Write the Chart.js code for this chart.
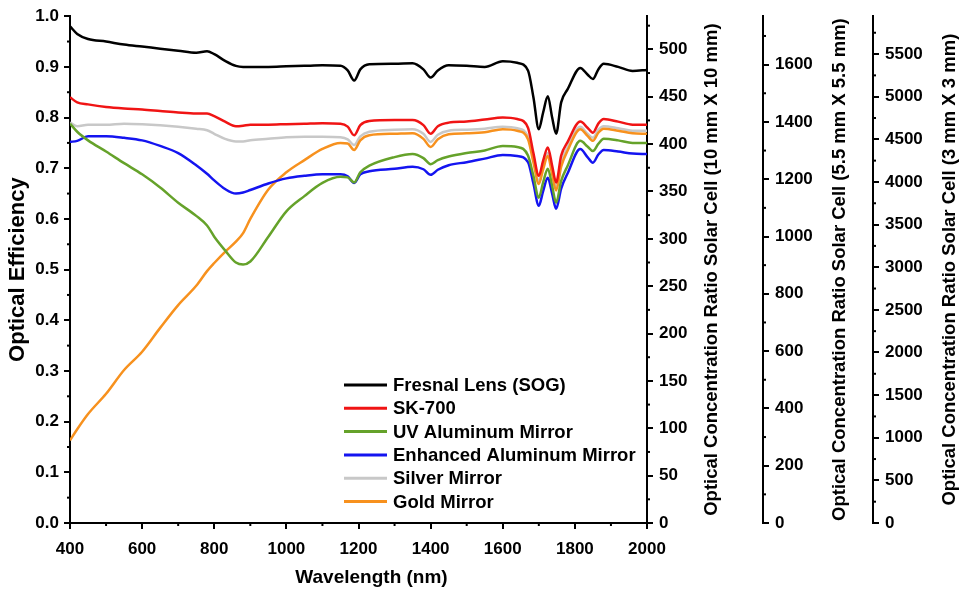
<!DOCTYPE html>
<html>
<head>
<meta charset="utf-8">
<script src="https://cdn.jsdelivr.net/npm/chart.js@4.4.0/dist/chart.umd.min.js"></script>
<style>
  html, body { margin: 0; padding: 0; background: #fff; }
  canvas { display: block; }
</style>
</head>
<body>
<canvas id="opticalChart" width="961" height="597"></canvas>
<script>
// wavelength grid (nm)
const wavelength = [400, 420, 450, 500, 550, 600, 650, 700, 750, 780, 800, 830, 860, 880, 900, 950, 1000, 1050, 1100, 1150,
  1170, 1188, 1205, 1230, 1300, 1350, 1380, 1400, 1420, 1450, 1500, 1550, 1600, 1640, 1670, 1685, 1700, 1712, 1725, 1737,
  1748, 1762, 1780, 1815, 1835, 1850, 1865, 1880, 1920, 1960, 2000];

// optical efficiency per material
const fresnelLens = [0.980, 0.965, 0.955, 0.950, 0.944, 0.940, 0.936, 0.932, 0.928, 0.931, 0.925, 0.912, 0.902, 0.900, 0.900, 0.900, 0.901, 0.902, 0.903, 0.902,
  0.893, 0.873, 0.895, 0.905, 0.906, 0.907, 0.895, 0.879, 0.893, 0.903, 0.902, 0.900, 0.911, 0.908, 0.893, 0.840, 0.777, 0.810, 0.842, 0.800,
  0.768, 0.830, 0.856, 0.898, 0.885, 0.876, 0.895, 0.906, 0.900, 0.892, 0.894];
const sk700 = [0.840, 0.830, 0.826, 0.821, 0.818, 0.816, 0.813, 0.810, 0.808, 0.808, 0.803, 0.792, 0.783, 0.784, 0.786, 0.786, 0.787, 0.788, 0.789, 0.788,
  0.782, 0.765, 0.785, 0.793, 0.795, 0.795, 0.785, 0.768, 0.783, 0.790, 0.792, 0.796, 0.800, 0.797, 0.780, 0.730, 0.685, 0.715, 0.741, 0.705,
  0.672, 0.725, 0.752, 0.792, 0.780, 0.770, 0.788, 0.797, 0.792, 0.786, 0.786];
const uvAluminum = [0.788, 0.772, 0.755, 0.733, 0.710, 0.688, 0.662, 0.632, 0.606, 0.587, 0.565, 0.538, 0.514, 0.510, 0.516, 0.565, 0.615, 0.645, 0.671, 0.683,
  0.682, 0.672, 0.692, 0.705, 0.722, 0.728, 0.720, 0.708, 0.716, 0.723, 0.730, 0.735, 0.744, 0.742, 0.725, 0.685, 0.642, 0.672, 0.699, 0.665,
  0.632, 0.675, 0.705, 0.754, 0.743, 0.734, 0.748, 0.758, 0.755, 0.750, 0.750];
const enhancedAluminum = [0.752, 0.754, 0.763, 0.763, 0.760, 0.755, 0.744, 0.730, 0.706, 0.689, 0.676, 0.659, 0.650, 0.652, 0.657, 0.670, 0.680, 0.685, 0.688, 0.688,
  0.684, 0.671, 0.688, 0.694, 0.699, 0.703, 0.698, 0.687, 0.697, 0.706, 0.712, 0.719, 0.726, 0.724, 0.712, 0.670, 0.626, 0.655, 0.681, 0.650,
  0.620, 0.660, 0.690, 0.738, 0.722, 0.711, 0.727, 0.736, 0.733, 0.729, 0.728];
const silverMirror = [0.790, 0.783, 0.786, 0.786, 0.788, 0.787, 0.785, 0.782, 0.778, 0.775, 0.768, 0.758, 0.753, 0.753, 0.755, 0.758, 0.761, 0.762, 0.762, 0.761,
  0.757, 0.746, 0.763, 0.772, 0.776, 0.777, 0.768, 0.752, 0.766, 0.774, 0.776, 0.778, 0.782, 0.779, 0.762, 0.718, 0.675, 0.705, 0.730, 0.695,
  0.662, 0.710, 0.742, 0.782, 0.768, 0.760, 0.776, 0.783, 0.779, 0.774, 0.774];
const goldMirror = [0.163, 0.185, 0.215, 0.255, 0.302, 0.338, 0.385, 0.430, 0.468, 0.497, 0.513, 0.535, 0.555, 0.572, 0.600, 0.658, 0.692, 0.716, 0.738, 0.750,
  0.749, 0.736, 0.755, 0.765, 0.768, 0.769, 0.758, 0.742, 0.757, 0.767, 0.769, 0.771, 0.777, 0.774, 0.757, 0.712, 0.669, 0.698, 0.724, 0.688,
  0.656, 0.703, 0.735, 0.777, 0.764, 0.754, 0.770, 0.778, 0.774, 0.769, 0.768];

const seriesNames = ['Fresnal Lens (SOG)', 'SK-700', 'UV Aluminum Mirror', 'Enhanced Aluminum Mirror', 'Silver Mirror', 'Gold Mirror'];
const seriesValues = [fresnelLens, sk700, uvAluminum, enhancedAluminum, silverMirror, goldMirror];
const seriesColors = ['#000000', '#f01414', '#65a22a', '#1414f0', '#c8c8c8', '#f7911e'];
const drawOrder = [1, 2, 3, 4, 6, 5];

// concentration ratio axes: maximum at efficiency 1.0, and their tick labels
const ratioMax = [535, 1769, 5944];
const ratioTicks10 = [0, 50, 100, 150, 200, 250, 300, 350, 400, 450, 500];
const ratioTicks55 = [0, 200, 400, 600, 800, 1000, 1200, 1400, 1600];
const ratioTicks3 = [0, 500, 1000, 1500, 2000, 2500, 3000, 3500, 4000, 4500, 5000, 5500];
const ratioTicks = [ratioTicks10, ratioTicks55, ratioTicks3];
const ratioTitles = [
  'Optical Concentration Ratio Solar Cell (10 mm X 10 mm)',
  'Optical Concentration Ratio Solar Cell (5.5 mm X 5.5 mm)',
  'Optical Concentration Ratio Solar Cell (3 mm X 3 mm)'
];

const FONT = "'Liberation Sans', Arial, sans-serif";
const minorSteps = { x: 100, y: 0.05, y1: 25, y2: 100, y3: 250 };

const minorTicks = {
  id: 'minorTicks',
  afterDraw(chart) {
    const ctx = chart.ctx;
    ctx.save();
    ctx.strokeStyle = '#000';
    ctx.lineWidth = 2;
    Object.keys(minorSteps).forEach(id => {
      const s = chart.scales[id];
      const step = minorSteps[id];
      for (let k = 1; s.min + k * step <= s.max + 1e-9; k += 2) {
        const p = s.getPixelForValue(s.min + k * step);
        ctx.beginPath();
        if (id === 'x') { ctx.moveTo(p, s.top); ctx.lineTo(p, s.top + 3); }
        else if (id === 'y') { ctx.moveTo(s.right, p); ctx.lineTo(s.right - 3, p); }
        else { ctx.moveTo(s.left, p); ctx.lineTo(s.left + 3, p); }
        ctx.stroke();
      }
    });
    ctx.restore();
  }
};

const axisTitles = {
  id: 'axisTitles',
  afterDraw(chart) {
    const ctx = chart.ctx;
    const area = chart.chartArea;
    ctx.save();
    ctx.fillStyle = '#000';
    ctx.textAlign = 'center';
    ctx.textBaseline = 'middle';
    ctx.font = 'bold 18.5px ' + FONT;
    ['y1', 'y2', 'y3'].forEach((id, i) => {
      const s = chart.scales[id];
      ctx.save();
      ctx.translate(s.left + (i === 0 ? 65 : 77), (area.top + area.bottom) / 2);
      ctx.rotate(-Math.PI / 2);
      ctx.fillText(ratioTitles[i], 0, 0);
      ctx.restore();
    });
    ctx.font = 'bold 19px ' + FONT;
    ctx.fillText('Wavelength (nm)', (area.left + area.right) / 2 + 13, 578);
    ctx.restore();
  }
};

const legendBox = {
  id: 'legendBox',
  afterDraw(chart) {
    const ctx = chart.ctx;
    ctx.save();
    ctx.font = 'bold 18.5px ' + FONT;
    ctx.textBaseline = 'middle';
    ctx.textAlign = 'left';
    chart.data.datasets.forEach((ds, i) => {
      const y = 385 + i * 23.3;
      ctx.strokeStyle = ds.borderColor;
      ctx.lineWidth = 3;
      ctx.beginPath();
      ctx.moveTo(344, y);
      ctx.lineTo(387, y);
      ctx.stroke();
      ctx.fillStyle = '#000';
      ctx.fillText(ds.label, 393, y + 1);
    });
    ctx.restore();
  }
};

const tickFont = { family: FONT, size: 17, weight: 'bold' };

function ratioAxis(i) {
  return {
    type: 'linear',
    position: 'right',
    weight: i,
    min: 0,
    max: ratioMax[i],
    grid: { drawOnChartArea: false, drawTicks: true, tickLength: 6, color: '#000', lineWidth: 2 },
    border: { display: true, color: '#000', width: 2 },
    ticks: { color: '#000', font: tickFont, padding: 6, callback: v => String(v) },
    title: { display: false },
    afterBuildTicks(scale) { scale.ticks = ratioTicks[i].map(v => ({ value: v })); },
    afterFit(scale) { scale.width = [116, 110, 88][i]; }
  };
}

new Chart(document.getElementById('opticalChart'), {
  type: 'line',
  data: {
    datasets: seriesNames.map((name, i) => ({
      label: name,
      data: wavelength.map((w, j) => ({ x: w, y: seriesValues[i][j] })),
      borderColor: seriesColors[i],
      borderWidth: 2.5,
      pointRadius: 0,
      cubicInterpolationMode: 'monotone',
      fill: false,
      order: drawOrder[i],
      yAxisID: 'y'
    }))
  },
  options: {
    responsive: false,
    devicePixelRatio: 1,
    animation: false,
    layout: { padding: { top: 15, left: 0, right: 0, bottom: 0 } },
    plugins: { legend: { display: false }, tooltip: { enabled: false } },
    scales: {
      x: {
        type: 'linear',
        min: 400,
        max: 2000,
        grid: { drawOnChartArea: false, tickLength: 6, color: '#000', lineWidth: 2 },
        border: { display: true, color: '#000', width: 2 },
        ticks: { stepSize: 200, color: '#000', font: tickFont, padding: 10, maxRotation: 0, callback: v => String(v) },
        afterFit(scale) { scale.height = 74; }
      },
      y: {
        type: 'linear',
        position: 'left',
        min: 0,
        max: 1,
        grid: { drawOnChartArea: false, tickLength: 6, color: '#000', lineWidth: 2 },
        border: { display: true, color: '#000', width: 2 },
        ticks: { stepSize: 0.1, color: '#000', font: tickFont, padding: 5, callback: v => v.toFixed(1) },
        title: { display: true, text: 'Optical Efficiency', color: '#000', font: { family: FONT, size: 22, weight: 'bold' }, padding: { top: 5, bottom: 0 } },
        afterFit(scale) { scale.width = 70; }
      },
      y1: ratioAxis(0),
      y2: ratioAxis(1),
      y3: ratioAxis(2)
    }
  },
  plugins: [minorTicks, axisTitles, legendBox]
});
</script>
</body>
</html>
